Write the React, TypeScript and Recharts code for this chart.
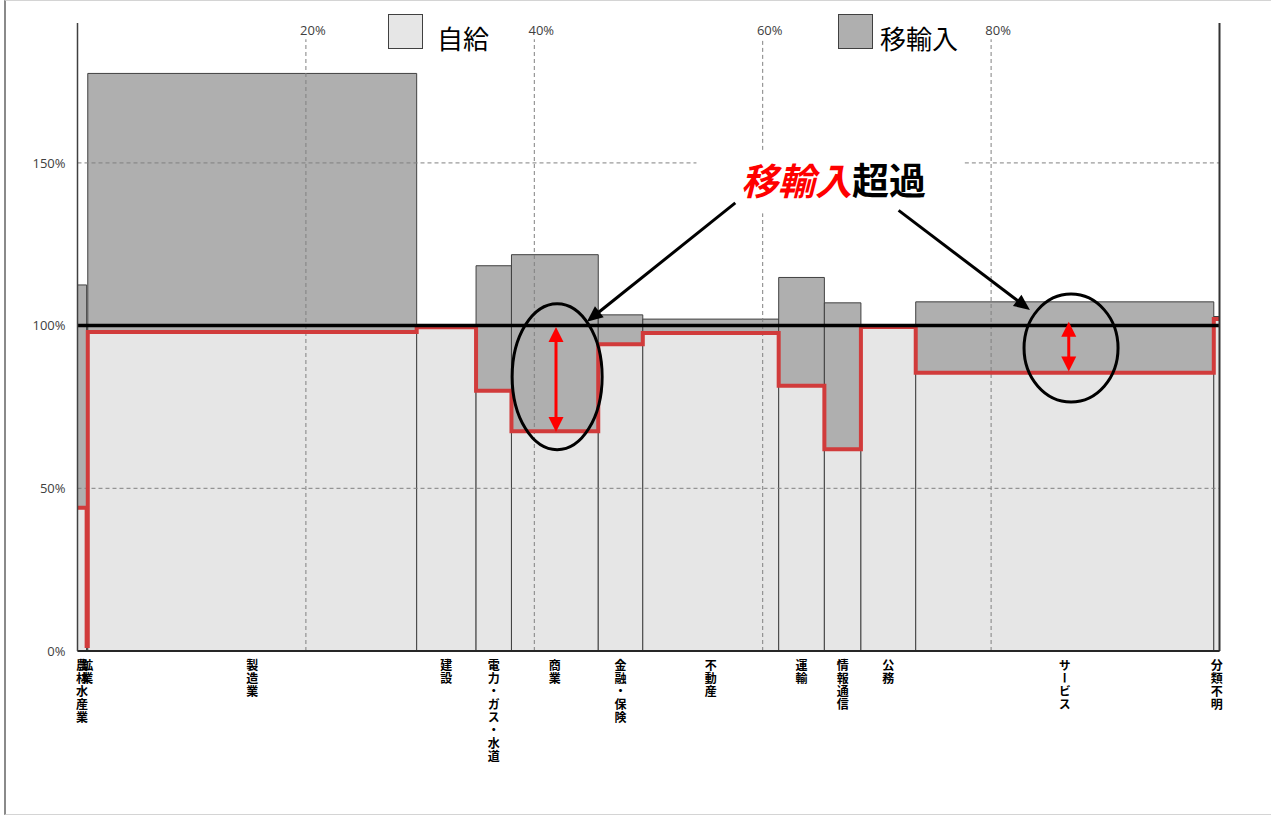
import React from 'react';
import {
    ComposedChart,
    Line,
    XAxis,
    YAxis,
    ReferenceArea,
    ReferenceLine,
    ReferenceDot,
} from 'recharts';

// industries, share of production (x width, %), self-supply ratio and import ratio (% of production)
const categories = [
    '農林水産業',
    '鉱業',
    '製造業',
    '建設',
    '電力・ガス・水道',
    '商業',
    '金融・保険',
    '不動産',
    '運輸',
    '情報通信',
    '公務',
    'サービス',
    '分類不明',
];
const shares = [0.8, 0.1, 28.8, 5.2, 3.1, 7.6, 3.9, 11.9, 4.0, 3.2, 4.8, 26.1, 0.5];
const selfRatio = [44, 1.5, 98, 99.5, 80, 67.5, 94.3, 97.7, 81.5, 62, 99.6, 85.5, 102];
const importRatio = [68.5, 98.5, 79.5, 0.8, 38.4, 54.3, 9.0, 4.3, 33.3, 45, 0.4, 21.8, 0.8];

const yTicks = [0, 50, 100, 150];
const xGridTicks = [20, 40, 60, 80];
const yGridLines = [50, 150];

// callouts, in axis units (x %, y %)
const ellipses = [
    { x: 42.0, y: 84.3, rx: 45, ry: 73 },
    { x: 87.0, y: 93.1, rx: 47, ry: 54 },
];
const gapArrows = [
    { x: 41.9, from: 99.6, to: 67.3 },
    { x: 86.8, from: 101.2, to: 85.9 },
];
const pointers = [
    { x1: 57.6, y1: 137.7, x2: 44.6, y2: 101.2 },
    { x1: 71.9, y1: 135.4, x2: 83.4, y2: 104.8 },
];
const calloutPos = { x: 66.2, y: 145.1 };
const calloutBox = { x1: 54.2, x2: 77.7, y1: 134.5, y2: 154 };

const round = (v: number) => Math.round(v * 1000) / 1000;
const starts: number[] = [];
shares.reduce((acc, s) => {
    starts.push(round(acc));
    return acc + s;
}, 0);
const ends = starts.map((s, i) => round(s + shares[i]));
const centers = starts.map((s, i) => round(s + shares[i] / 2));

const lineData = starts.map((s, i) => ({ x: s, r: selfRatio[i] }));
lineData.push({ x: 100, r: selfRatio[selfRatio.length - 1] });

// gridline pieces, skipping the white callout box
const hGrid = yGridLines.flatMap((v) =>
    v > calloutBox.y1 && v < calloutBox.y2
        ? [
              [0, calloutBox.x1],
              [calloutBox.x2, 100],
          ].map(([a, b]) => ({ v, a, b }))
        : [{ v, a: 0, b: 100 }]
);
const vGrid = xGridTicks.flatMap((v) =>
    v > calloutBox.x1 && v < calloutBox.x2
        ? [
              [0, calloutBox.y1],
              [calloutBox.y2, 188],
          ].map(([a, b]) => ({ v, a, b }))
        : [{ v, a: 0, b: 188 }]
);

const LIGHT = '#e6e6e6';
const DARK = '#afafaf';
const EDGE = '#404040';
const RED = '#d13b3b';
const GRID = '#808080';
const JP = "'Noto Sans CJK JP', sans-serif";

const head = (x: number, y: number, ang: number, len: number, hw: number, color: string) => {
    const bx = x - len * Math.cos(ang);
    const by = y - len * Math.sin(ang);
    const px = -Math.sin(ang) * hw;
    const py = Math.cos(ang) * hw;
    return (
        <polygon
            points={`${x},${y} ${bx + px},${by + py} ${bx - px},${by - py}`}
            fill={color}
        />
    );
};

const arrowShape = (color: string, width: number, len: number, hw: number, both: boolean) => (p: any) => {
    const { x1, y1, x2, y2 } = p;
    const ang = Math.atan2(y2 - y1, x2 - x1);
    const sx = both ? x1 + (len - 2) * Math.cos(ang) : x1;
    const sy = both ? y1 + (len - 2) * Math.sin(ang) : y1;
    const ex = x2 - (len - 2) * Math.cos(ang);
    const ey = y2 - (len - 2) * Math.sin(ang);
    return (
        <g>
            <line x1={sx} y1={sy} x2={ex} y2={ey} stroke={color} strokeWidth={width} />
            {head(x2, y2, ang, len, hw, color)}
            {both && head(x1, y1, ang + Math.PI, len, hw, color)}
        </g>
    );
};

const CatTick = (props: any) => {
    const { x, y, index } = props;
    return (
        <text
            x={x}
            y={y}
            fill='#000'
            fontSize={12}
            fontWeight='bold'
            fontFamily={JP}
            letterSpacing={1}
            style={{ writingMode: 'vertical-rl' }}
        >
            {categories[index]}
        </text>
    );
};

const legendBox = (fill: string, left: number) => (
    <div
        style={{
            position: 'absolute',
            left,
            top: 13,
            width: 35,
            height: 35,
            boxSizing: 'border-box',
            background: fill,
            border: `1.5px solid ${EDGE}`,
        }}
    />
);
const legendText = (text: string, left: number) => (
    <div
        style={{
            position: 'absolute',
            left,
            top: 23,
            fontSize: 26,
            lineHeight: '28px',
            fontFamily: JP,
            color: '#000',
        }}
    >
        {text}
    </div>
);

const App = () => {
    return (
        <div
            style={{
                position: 'absolute',
                left: 4,
                top: 0,
                width: 1267,
                height: 815,
                boxSizing: 'border-box',
                borderLeft: '2px solid #8a8a8a',
                borderTop: '1px solid #d4d4d4',
                borderBottom: '1px solid #d4d4d4',
                background: '#fff',
                overflow: 'hidden',
            }}
        >
            <ComposedChart
                width={1265}
                height={813}
                margin={{ top: 22, right: 51.5, left: 11.5, bottom: 133 }}
            >
                <XAxis
                    type='number'
                    dataKey='x'
                    domain={[0, 100]}
                    ticks={centers}
                    interval={0}
                    tick={(p: any) => <CatTick {...p} />}
                    tickLine={false}
                    axisLine={{ stroke: '#262626', strokeWidth: 2 }}
                    height={30}
                    allowDataOverflow
                />
                <YAxis
                    type='number'
                    domain={[0, 193]}
                    ticks={yTicks}
                    tickFormatter={(v: number) => `${v}%`}
                    width={60}
                    tickLine={false}
                    axisLine={{ stroke: EDGE, strokeWidth: 1.5 }}
                    tick={{ fontSize: 13, fill: '#404040', fontFamily: 'Open Sans' }}
                    tickMargin={6}
                    allowDataOverflow
                />
                {categories.map((c, i) => (
                    <ReferenceArea
                        key={`s-${c}`}
                        x1={starts[i]}
                        x2={ends[i]}
                        y1={0}
                        y2={selfRatio[i]}
                        fill={LIGHT}
                        fillOpacity={1}
                        stroke={EDGE}
                        strokeWidth={1}
                        ifOverflow='visible'
                    />
                ))}
                {categories.map((c, i) => (
                    <ReferenceArea
                        key={`m-${c}`}
                        x1={starts[i]}
                        x2={ends[i]}
                        y1={selfRatio[i]}
                        y2={selfRatio[i] + importRatio[i]}
                        fill={DARK}
                        fillOpacity={1}
                        stroke={EDGE}
                        strokeWidth={1}
                        ifOverflow='visible'
                    />
                ))}
                {hGrid.map((g, i) => (
                    <ReferenceLine
                        key={`h-${i}`}
                        segment={[
                            { x: g.a, y: g.v },
                            { x: g.b, y: g.v },
                        ]}
                        stroke={GRID}
                        strokeDasharray='4 3'
                    />
                ))}
                {vGrid.map((g, i) => (
                    <ReferenceLine
                        key={`v-${i}`}
                        segment={[
                            { x: g.v, y: g.a },
                            { x: g.v, y: g.b },
                        ]}
                        stroke={GRID}
                        strokeDasharray='4 3'
                    />
                ))}
                {xGridTicks.map((v) => (
                    <ReferenceLine
                        key={`vl-${v}`}
                        segment={[
                            { x: v, y: 188 },
                            { x: v, y: 187.9 },
                        ]}
                        stroke='none'
                        label={{
                            value: `${v}%`,
                            position: 'top',
                            fill: '#404040',
                            fontSize: 13,
                            fontFamily: 'Open Sans',
                            dx: 7,
                            dy: 1,
                        }}
                    />
                ))}
                <Line
                    data={lineData}
                    dataKey='r'
                    type='stepAfter'
                    stroke={RED}
                    strokeWidth={4}
                    dot={false}
                    isAnimationActive={false}
                />
                <ReferenceLine y={100} stroke='#000' strokeWidth={3.5} />
                <ReferenceLine x={100} stroke='#333' strokeWidth={2} />
                {gapArrows.map((a, i) => (
                    <ReferenceLine
                        key={`ga-${i}`}
                        segment={[
                            { x: a.x, y: a.from },
                            { x: a.x, y: a.to },
                        ]}
                        shape={arrowShape('#ff0000', 3, 15, 7.5, true)}
                    />
                ))}
                {pointers.map((a, i) => (
                    <ReferenceLine
                        key={`p-${i}`}
                        segment={[
                            { x: a.x1, y: a.y1 },
                            { x: a.x2, y: a.y2 },
                        ]}
                        shape={arrowShape('#000', 3, 16, 7, false)}
                    />
                ))}
                {ellipses.map((e, i) => (
                    <ReferenceDot
                        key={`e-${i}`}
                        x={e.x}
                        y={e.y}
                        r={1}
                        shape={(p: any) => (
                            <ellipse
                                cx={p.cx}
                                cy={p.cy}
                                rx={e.rx}
                                ry={e.ry}
                                fill='none'
                                stroke='#000'
                                strokeWidth={3}
                            />
                        )}
                    />
                ))}
                <ReferenceDot
                    x={calloutPos.x}
                    y={calloutPos.y}
                    r={1}
                    shape={(p: any) => (
                        <text
                            x={p.cx}
                            y={p.cy}
                            textAnchor='middle'
                            dominantBaseline='central'
                            fontSize={37}
                            fontWeight='bold'
                            fontFamily={JP}
                        >
                            <tspan fill='#ff0000' fontStyle='italic'>
                                移輸入
                            </tspan>
                            <tspan fill='#000'>超過</tspan>
                        </text>
                    )}
                />
            </ComposedChart>
            {legendBox(LIGHT, 382)}
            {legendText('自給', 431)}
            {legendBox(DARK, 832)}
            {legendText('移輸入', 874)}
        </div>
    );
};

export default App;
